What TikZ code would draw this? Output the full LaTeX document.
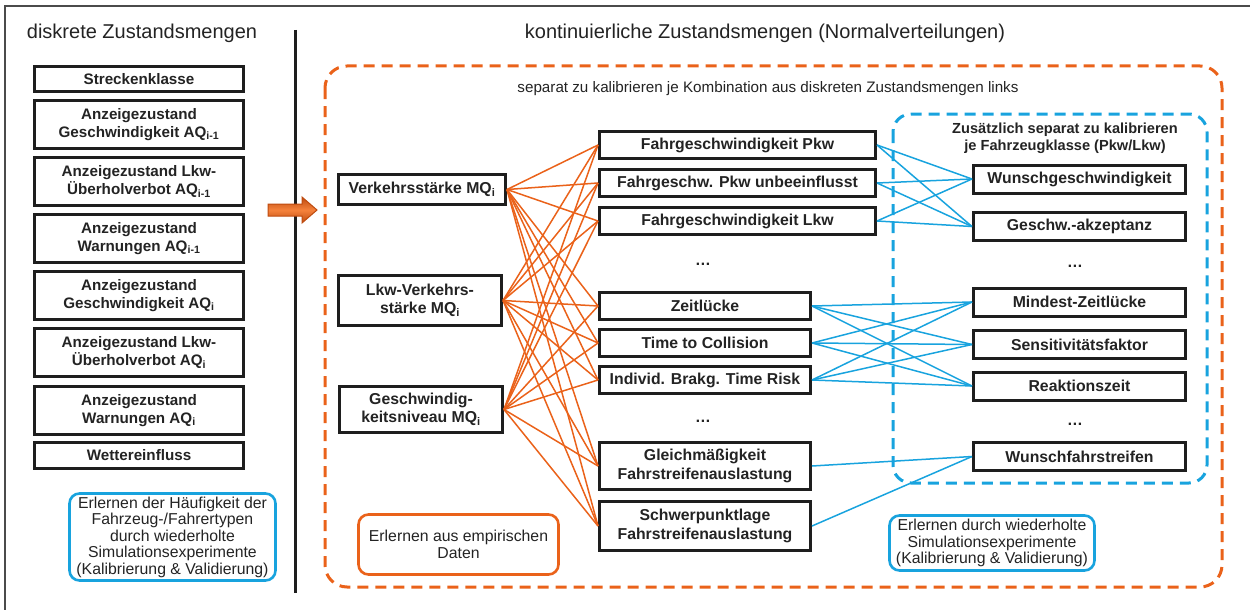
\documentclass[tikz,border=0pt]{standalone}
\usepackage{fontspec}
\setmainfont{Liberation Sans}
\definecolor{orng}{RGB}{234,98,26}
\definecolor{orngdark}{RGB}{190,75,15}
\definecolor{ornglight}{RGB}{245,130,60}
\definecolor{blu}{RGB}{24,163,222}
\definecolor{boxc}{RGB}{30,30,30}
\definecolor{txt}{RGB}{35,35,35}
\begin{document}
\begin{tikzpicture}[x=1pt,y=-1pt,
  box/.style={draw=boxc, line width=3pt, text=txt, align=center, inner sep=0pt,
    font=\bfseries\fontsize{15.8}{18.5}\selectfont},
  lbox/.style={box, minimum width=209pt, font=\bfseries\fontsize{15.2}{17.5}\selectfont},
  pbox/.style={box, minimum width=276pt, minimum height=27pt},
  zbox/.style={box, minimum width=211pt},
  rbox/.style={box, minimum width=212pt, minimum height=28pt},
  note/.style={rounded corners=10pt, line width=2.6pt, text=txt, align=center, inner sep=0pt,
    font=\fontsize{15.8}{16.5}\selectfont},
  dotsn/.style={text=txt, font=\bfseries\fontsize{15.8}{18}\selectfont, inner sep=0pt},
  ol/.style={draw=orng, line width=1.5pt},
  bl/.style={draw=blu, line width=1.5pt},
  title/.style={text=txt, font=\fontsize{20}{23}\selectfont, inner sep=0pt}
]
\useasboundingbox (0,0) rectangle (1250,610);
% frame
\draw[line width=1.5pt, draw=boxc!80] (5,610) -- (5,6) -- (1250,6);
% separator
\draw[line width=3pt, draw=boxc] (295,30) -- (295,593);
% titles
\node[title] (t1) at (142,33) {diskrete Zustandsmengen};
\node[title] (t2) at (765,33) {kontinuierliche Zustandsmengen (Normalverteilungen)};
% left column
\node[lbox, minimum height=25pt] (s1) at (139,79) {Streckenklasse};
\node[lbox, minimum height=48pt] (s2) at (139,124.5) {Anzeigezustand\\Geschwindigkeit AQ\textsubscript{i-1}};
\node[lbox, minimum height=48pt] (s3) at (139,181.5) {Anzeigezustand Lkw-\\Überholverbot AQ\textsubscript{i-1}};
\node[lbox, minimum height=48pt] (s4) at (139,238.5) {Anzeigezustand\\Warnungen AQ\textsubscript{i-1}};
\node[lbox, minimum height=48pt] (s5) at (139,295.5) {Anzeigezustand\\Geschwindigkeit AQ\textsubscript{i}};
\node[lbox, minimum height=48pt] (s6) at (139,352.5) {Anzeigezustand Lkw-\\Überholverbot AQ\textsubscript{i}};
\node[lbox, minimum height=48pt] (s7) at (139,410.5) {Anzeigezustand\\Warnungen AQ\textsubscript{i}};
\node[lbox, minimum height=26pt] (s8) at (139,455.5) {Wettereinfluss};
\node[note, draw=blu, minimum width=206pt, minimum height=87pt] (n1) at (172.5,537)
  {Erlernen der Häufigkeit der\\Fahrzeug-/Fahrertypen\\durch wiederholte\\Simulationsexperimente\\(Kalibrierung \& Validierung)};
% arrow
\draw[top color=orngdark, bottom color=orngdark, middle color=ornglight, draw=orngdark, line width=1pt]
  (268,204) -- (302,204) -- (302,197) -- (317,210)
  -- (302,223) -- (302,216) -- (268,216) -- cycle;
% dashed containers
\draw[orng, line width=3pt, dash pattern=on 11pt off 7pt, rounded corners=22pt]
  (325,66) rectangle (1222,587);
\node[text=txt, font=\fontsize{15.2}{17}\selectfont, inner sep=0pt] (t3) at (768,89)
  {separat zu kalibrieren je Kombination aus diskreten Zustandsmengen links};
\draw[blu, line width=3pt, dash pattern=on 11pt off 7pt, rounded corners=18pt]
  (893,114) rectangle (1207,483);
\node[text=txt, font=\bfseries\fontsize{14.6}{17}\selectfont, align=center, inner sep=0pt] (t4) at (1065,138)
  {Zusätzlich separat zu kalibrieren\\je Fahrzeugklasse (Pkw/Lkw)};
% MQ nodes
\node[box, minimum width=167pt, minimum height=30pt] (m1) at (422,189.5) {Verkehrsstärke MQ\textsubscript{i}};
\node[box, minimum width=163pt, minimum height=50pt] (m2) at (420,300.5) {Lkw-Verkehrs-\\stärke MQ\textsubscript{i}};
\node[box, minimum width=163pt, minimum height=46pt] (m3) at (421,409.5) {Geschwindig-\\keitsniveau MQ\textsubscript{i}};
% middle nodes
\node[pbox] (p1) at (737.5,145) {Fahrgeschwindigkeit Pkw};
\node[pbox] (p2) at (737.5,183) {Fahrgeschw. Pkw unbeeinflusst};
\node[pbox] (p3) at (737.5,221) {Fahrgeschwindigkeit Lkw};
\node[dotsn] (d1) at (703,264) {…};
\node[zbox, minimum height=27pt] (z1) at (705,306) {Zeitlücke};
\node[zbox, minimum height=27pt] (z2) at (705,343) {Time to Collision};
\node[zbox, minimum height=27pt] (z3) at (705,380) {Individ. Brakg. Time Risk};
\node[dotsn] (d2) at (703,421) {…};
\node[zbox, minimum height=47pt] (g1) at (705,466) {Gleichmäßigkeit\\Fahrstreifenauslastung};
\node[zbox, minimum height=49pt] (g2) at (705,526) {Schwerpunktlage\\Fahrstreifenauslastung};
% right nodes
\node[rbox] (r1) at (1079.5,179) {Wunschgeschwindigkeit};
\node[rbox] (r2) at (1079.5,226.5) {Geschw.-akzeptanz};
\node[dotsn] (d3) at (1075,266) {…};
\node[rbox] (r3) at (1079.5,302) {Mindest-Zeitlücke};
\node[rbox] (r4) at (1079.5,344.5) {Sensitivitätsfaktor};
\node[rbox] (r5) at (1079.5,386) {Reaktionszeit};
\node[dotsn] (d4) at (1075,424) {…};
\node[rbox] (r6) at (1079.5,456.5) {Wunschfahrstreifen};
% bottom notes
\node[note, draw=orng, minimum width=200pt, minimum height=60pt] (n2) at (458.5,544.5)
  {Erlernen aus empirischen\\Daten};
\node[note, draw=blu, minimum width=205pt, minimum height=55pt] (n3) at (992,543)
  {Erlernen durch wiederholte\\Simulationsexperimente\\(Kalibrierung \& Validierung)};
% orange connectors
\foreach \a in {m1,m2,m3}{
  \foreach \b in {p1,p2,p3,z1,z2,z3,g1,g2}{
    \draw[ol] (\a.east) -- (\b.west);
  }
}
% blue connectors
\foreach \a in {p1,p2,p3}{
  \foreach \b in {r1,r2}{
    \draw[bl] (\a.east) -- (\b.west);
  }
}
\foreach \a in {z1,z2,z3}{
  \foreach \b in {r3,r4,r5}{
    \draw[bl] (\a.east) -- (\b.west);
  }
}
\draw[bl] (g1.east) -- (r6.west);
\draw[bl] (g2.east) -- (r6.west);
\end{tikzpicture}
\end{document}
